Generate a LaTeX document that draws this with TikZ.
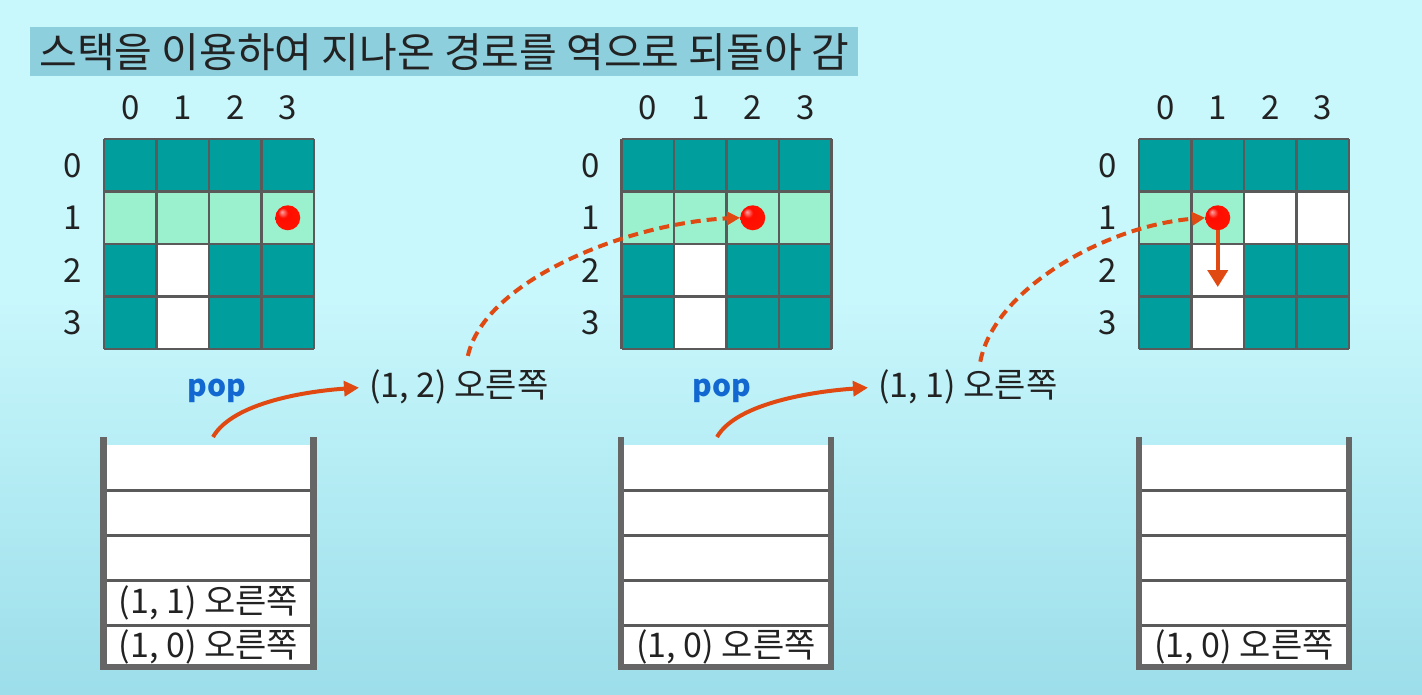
\documentclass[tikz,border=0pt]{standalone}
\usepackage{fontspec}
\setmainfont{Noto Sans CJK KR}
\usetikzlibrary{arrows.meta}
\definecolor{bgtop}{HTML}{C8F7FC}
\definecolor{bgbot}{HTML}{9CDEEA}
\definecolor{titlebg}{HTML}{8DCFDD}
\definecolor{teal1}{HTML}{019E9E}
\definecolor{mint}{HTML}{9BF0CE}
\definecolor{gridln}{HTML}{5A5A5A}
\definecolor{wallc}{HTML}{666666}
\definecolor{arr}{HTML}{E04A12}
\definecolor{popblue}{HTML}{1268D0}
\definecolor{txt}{HTML}{222222}
\pgfdeclareradialshading{redball}{\pgfpoint{-12bp}{12bp}}{color(0bp)=(red!35!white); color(10bp)=(red!90!orange); color(30bp)=(red!85!orange); color(45bp)=(red!75!black); color(50bp)=(red!65!black)}
\newcommand\mazegrid[4]{% #1 origin x, #2 name, #3 #4 colours of row1 col2,col3
  \foreach \r/\c/\col in {0/0/teal1,0/1/teal1,0/2/teal1,0/3/teal1,1/0/mint,1/1/mint,1/2/#3,1/3/#4,2/0/teal1,2/1/white,2/2/teal1,2/3/teal1,3/0/teal1,3/1/white,3/2/teal1,3/3/teal1}
    {\fill[fill=\col] (#1+\c*52.5,139+\r*52.5) rectangle ++(52.5,52.5);}
  \foreach \i in {0,...,4}{
    \draw[gridline] (#1+\i*52.5,139) -- ++(0,210);
    \draw[gridline] (#1,139+\i*52.5) -- ++(210,0);}
  \foreach \i in {0,...,3}{
    \node[lbl] (#2c\i) at (#1+26.25+\i*52.5,108) {\i};
    \node[lbl] (#2r\i) at (#1-31,165.25+\i*52.5) {\i};}
}
\newcommand\stackbox[1]{% #1 centre x
  \fill[white] (#1-105,445) rectangle (#1+105,667);
  \foreach \y in {490,535,580,625}{\draw[slotline] (#1-105,\y) -- (#1+105,\y);}
  \draw[wall] (#1-105,437) -- (#1-105,667) -- (#1+105,667) -- (#1+105,437);
}
\begin{document}
\begin{tikzpicture}[x=1pt,y=-1pt,
  lbl/.style={font=\fontsize{33}{33}\selectfont, text=txt, inner sep=0pt},
  alb/.style={font=\fontsize{34}{34}\selectfont, text=txt, inner sep=0pt},
  slbl/.style={font=\fontsize{34}{34}\selectfont, text=txt, inner sep=0pt},
  popst/.style={font=\fontsize{30}{30}\selectfont\bfseries, text=popblue, inner sep=0pt},
  gridline/.style={draw=gridln, line width=2.5pt},
  slotline/.style={draw=gridln, line width=3pt},
  wall/.style={draw=wallc, line width=6.5pt},
  dot/.style={circle, minimum size=25pt, inner sep=0pt, shading=redball},
  solidarr/.style={draw=arr, line width=4pt, -{Triangle[length=15pt,width=15pt]}},
  dasharr/.style={draw=arr, line width=4pt, dash pattern=on 10pt off 6pt, -{Triangle[length=13pt,width=13pt]}},
  downarr/.style={draw=arr, line width=4pt, -{Triangle[length=17pt,width=20pt]}}]
\useasboundingbox (0,0) rectangle (1422,694);
\fill[bgtop] (0,0) rectangle (1422,694);
\shade[top color=bgtop, bottom color=bgbot] (0,300) rectangle (1422,694);

\node[fill=titlebg, minimum width=828pt, minimum height=49pt, inner sep=0pt, anchor=north west,
  font=\fontsize{41}{41}\selectfont, text=txt] (title) at (30,27) {스택을 이용하여 지나온 경로를 역으로 되돌아 감};

\mazegrid{104}{ga}{mint}{mint}
\mazegrid{621.5}{gb}{mint}{mint}
\mazegrid{1139}{gc}{white}{white}

\node[dot] (dot1) at (287.75,217.75) {};
\node[dot] (dot2) at (752.75,217.75) {};
\node[dot] (dot3) at (1217.75,217.75) {};

\stackbox{208.5}
\stackbox{726}
\stackbox{1244}

\node[slbl] (sa4) at (208.5,603) {(1, 1) 오른쪽};
\node[slbl] (sa5) at (208.5,647) {(1, 0) 오른쪽};
\node[slbl] (sb5) at (726,647) {(1, 0) 오른쪽};
\node[slbl] (sc5) at (1244,647) {(1, 0) 오른쪽};

\node[popst] (pop1) at (217,391) {pop};
\node[popst] (pop2) at (722,391) {pop};

\node[alb, anchor=west] (lab1) at (369,387) {(1, 2) 오른쪽};
\node[alb, anchor=west] (lab2) at (878,387) {(1, 1) 오른쪽};

\coordinate (sa) at (213,437);
\coordinate (sb) at (717,437);
\coordinate (dn) at (1217.75,287);

\draw[solidarr, shorten >=10pt] (sa) .. controls +(20,-35) and +(-60,4) .. (lab1.west);
\draw[solidarr, shorten >=10pt] (sb) .. controls +(20,-35) and +(-60,4) .. (lab2.west);
\draw[dasharr, shorten <=14pt] ([xshift=6pt]lab1.north) .. controls +(20,-90) and +(-110,5) .. (dot2.west);
\draw[dasharr, shorten <=8pt] ([xshift=11pt]lab2.north) .. controls +(15,-80) and +(-100,8) .. (dot3.west);
\draw[downarr] (dot3.south) -- (dn);
\end{tikzpicture}
\end{document}
